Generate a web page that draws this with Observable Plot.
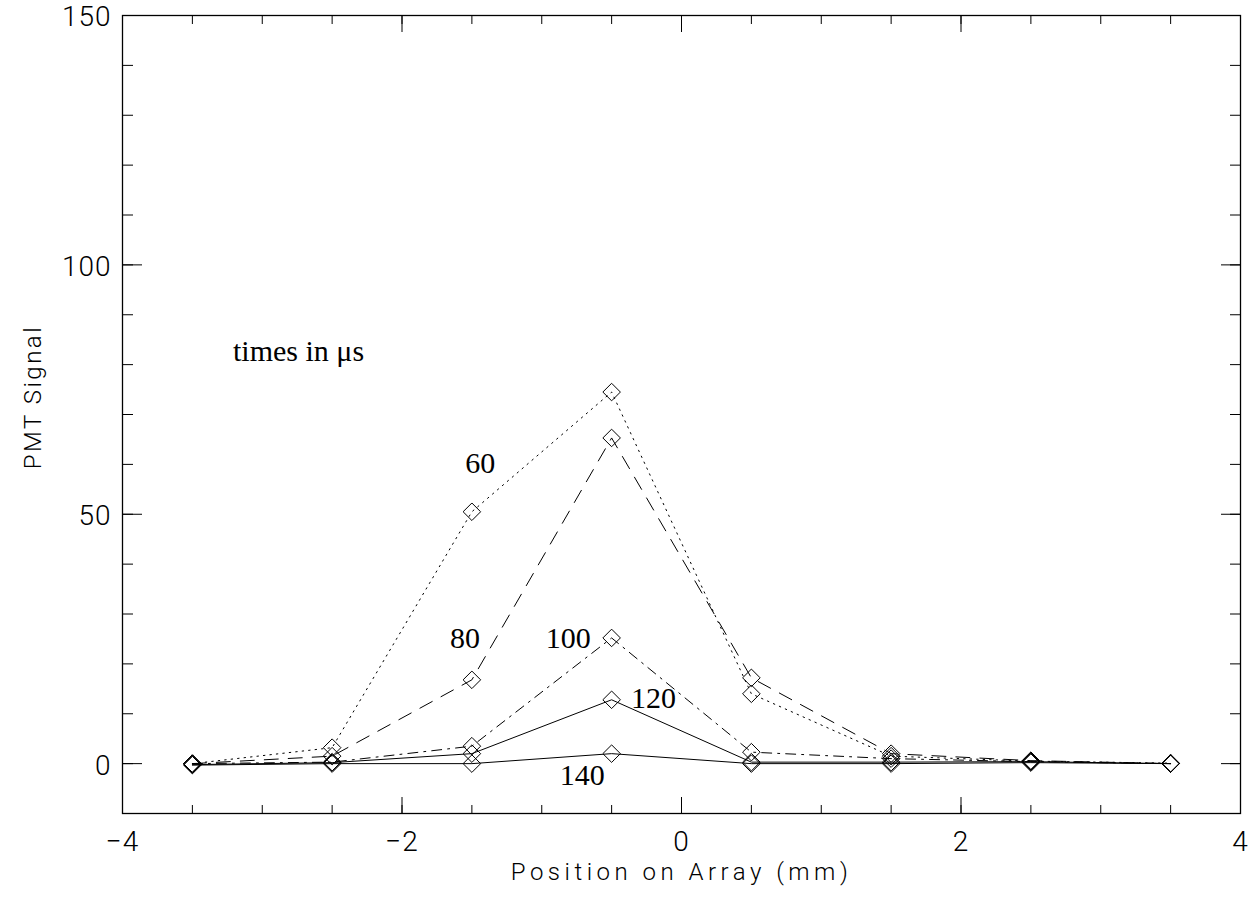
<!DOCTYPE html>
<html><head><meta charset="utf-8">
<script src="https://cdn.jsdelivr.net/npm/d3@7"></script>
<script src="https://cdn.jsdelivr.net/npm/@observablehq/plot@0.6"></script>
<style>
body{margin:0;background:#fff}
g[aria-label$="tick label"] text{letter-spacing:1px}
</style>
</head><body><div id="chart"></div>
<script>
// Positions on the array (mm)
const positions = [-3.5, -2.5, -1.5, -0.5, 0.5, 1.5, 2.5, 3.5];
// PMT signal for each time (μs)
const s60  = [0.0, 3.2, 50.5, 74.5, 14.0, 1.5, 0.5, 0.1];
const s80  = [0.0, 1.5, 16.8, 65.3, 17.2, 2.0, 0.6, 0.0];
const s100 = [0.0, 0.3, 3.5, 25.2, 2.3, 1.0, 0.4, 0.0];
const s120 = [-0.2, 0.2, 2.0, 12.8, 0.3, 0.3, 0.4, 0.0];
const s140 = [-0.3, 0.0, 0.0, 2.0, 0.0, 0.0, 0.2, 0.0];
const seriesNames = ["60", "80", "100", "120", "140"];
const seriesValues = [s60, s80, s100, s120, s140];
// Label annotations (text, x, y in data units)
const labelText = ["times in μs", "60", "80", "100", "120", "140"];
const labelX = [-2.74, -1.44, -1.55, -0.81, -0.2, -0.71];
const labelY = [82.6, 60.2, 25.2, 25.2, 13.0, -2.4];

const xMajor = [-4, -2, 0, 2, 4];
const xMinor = d3.range(-4, 4.01, 0.5);
const yMajor = [0, 50, 100, 150];
const yMinor = d3.range(-10, 150.1, 10);

const dashes = {"60": "1.5,5", "80": "14,10", "100": "10,6,2,6", "120": null, "140": null};

const rows = [];
seriesNames.forEach((s, i) => positions.forEach((p, j) => rows.push({series: s, x: p, y: seriesValues[i][j]})));
const labels = labelText.map((t, i) => ({text: t, x: labelX[i], y: labelY[i]}));

const lineMarks = seriesNames.map(s => Plot.line(rows.filter(r => r.series === s), {
  x: "x", y: "y", stroke: "black", strokeWidth: 1, strokeDasharray: dashes[s]
}));

const tickFont = {fontFamily: "Roboto", fontWeight: 300, fontSize: 28};
const titleFont = {fontFamily: "Roboto", fontWeight: 300, fontSize: 24};

const chart = Plot.plot({
  width: 1256, height: 900,
  marginLeft: 122, marginRight: 16, marginTop: 15, marginBottom: 87,
  style: {fontFamily: "Roboto", fontWeight: 300, fontSize: "24px", color: "black", background: "white"},
  x: {domain: [-4, 4]},
  y: {domain: [-10, 150]},
  marks: [
    Plot.frame({stroke: "black", strokeWidth: 1.3}),
    // minor ticks
    Plot.axisX({anchor: "bottom", ticks: xMinor, tickSize: -8, tickFormat: () => "", label: null}),
    Plot.axisX({anchor: "top", ticks: xMinor, tickSize: -8, tickFormat: () => "", label: null}),
    Plot.axisY({anchor: "left", ticks: yMinor, tickSize: -11, tickFormat: () => "", label: null}),
    Plot.axisY({anchor: "right", ticks: yMinor, tickSize: -11, tickFormat: () => "", label: null}),
    // major ticks
    Plot.axisX({anchor: "bottom", ticks: xMajor, tickSize: -16, tickFormat: () => "", label: null}),
    Plot.axisX({anchor: "top", ticks: xMajor, tickSize: -16, tickFormat: () => "", label: null}),
    Plot.axisY({anchor: "left", ticks: yMajor, tickSize: -20, tickFormat: () => "", label: null}),
    Plot.axisY({anchor: "right", ticks: yMajor, tickSize: -20, tickFormat: () => "", label: null}),
    // tick labels
    Plot.axisX({anchor: "bottom", ticks: xMajor, tickSize: 0, tickPadding: 18, tickFormat: d => d < 0 ? "\u2212" + Math.abs(d) : String(d), label: null, ...tickFont}),
    Plot.axisY({anchor: "left", ticks: yMajor, tickSize: 0, tickPadding: 11, dy: 2, label: null, ...tickFont}),
    // axis titles
    Plot.text(["Position on Array (mm)"], {x: 0, frameAnchor: "bottom", dy: 66, text: d => d, ...titleFont}),
    Plot.text(["PMT Signal"], {frameAnchor: "left", textAnchor: "middle", y: 73.5, dx: -89, rotate: -90, text: d => d, ...titleFont}),
    ...lineMarks,
    Plot.dot(rows, {x: "x", y: "y", symbol: "diamond2", r: 7.9, stroke: "black", strokeWidth: 1, fill: "none"}),
    Plot.text(labels, {x: "x", y: "y", text: "text", fontFamily: "Liberation Serif", fontSize: 30, fontWeight: 400, fill: "black"})
  ]
});
const textGroups = chart.querySelectorAll('g[aria-label="text"]');
textGroups[0].style.letterSpacing = "4.5px";
textGroups[1].style.letterSpacing = "2.5px";
document.getElementById("chart").appendChild(chart);
</script></body></html>
